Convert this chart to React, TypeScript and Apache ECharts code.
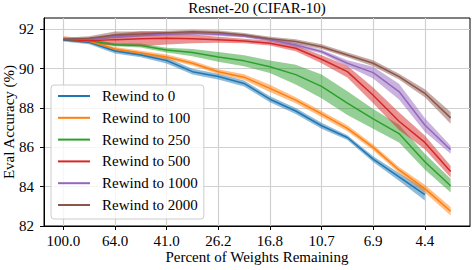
import React, { useEffect, useRef } from "react";
import * as echarts from "echarts";

// Pruning levels (percent of weights remaining), one per data point
const levels = ["100.0", "80.0", "64.0", "51.2", "41.0", "32.8", "26.2", "21.0", "16.8", "13.4", "10.7", "8.6", "6.9", "5.5", "4.4", "3.5"];
const xTickIdx = [0, 2, 4, 6, 8, 10, 12, 14];
const yTicks = [82, 84, 86, 88, 90, 92];

const names = ["Rewind to 0", "Rewind to 100", "Rewind to 250", "Rewind to 500", "Rewind to 1000", "Rewind to 2000"];
const colors = ["#1f77b4", "#ff7f0e", "#2ca02c", "#d62728", "#9467bd", "#8c564b"];

const rewind0 = [91.47, 91.35, 90.9, 90.7, 90.42, 89.85, 89.6, 89.25, 88.45, 87.85, 87.1, 86.5, 85.4, 84.5, 83.6];
const rewind0Err = [0.08, 0.1, 0.12, 0.12, 0.15, 0.15, 0.15, 0.15, 0.15, 0.15, 0.15, 0.12, 0.15, 0.2, 0.3];
const rewind100 = [91.55, 91.4, 91.0, 90.8, 90.6, 90.28, 89.85, 89.57, 89.0, 88.4, 87.7, 86.97, 86.0, 84.85, 83.9, 82.75];
const rewind100Err = [0.12, 0.1, 0.1, 0.12, 0.12, 0.12, 0.12, 0.15, 0.18, 0.15, 0.15, 0.15, 0.15, 0.15, 0.2, 0.22];
const rewind250 = [91.5, 91.43, 91.22, 91.18, 90.95, 90.82, 90.6, 90.4, 90.1, 89.7, 89.1, 88.25, 87.45, 86.7, 85.27, 84.05];
const rewind250Err = [0.08, 0.08, 0.08, 0.1, 0.12, 0.18, 0.25, 0.28, 0.32, 0.5, 0.6, 0.6, 0.5, 0.45, 0.4, 0.35];
const rewind500 = [91.5, 91.42, 91.48, 91.52, 91.55, 91.52, 91.47, 91.41, 91.3, 91.04, 90.48, 89.85, 88.65, 87.33, 86.25, 84.77];
const rewind500Err = [0.08, 0.12, 0.3, 0.38, 0.32, 0.22, 0.15, 0.12, 0.12, 0.15, 0.2, 0.3, 0.4, 0.45, 0.35, 0.3];
const rewind1000 = [91.5, 91.52, 91.63, 91.69, 91.76, 91.8, 91.75, 91.67, 91.47, 91.21, 90.87, 90.28, 89.8, 88.84, 87.14, 85.88];
const rewind1000Err = [0.06, 0.06, 0.07, 0.07, 0.08, 0.08, 0.08, 0.08, 0.08, 0.1, 0.1, 0.15, 0.3, 0.4, 0.35, 0.2];
const rewind2000 = [91.5, 91.55, 91.72, 91.77, 91.83, 91.88, 91.84, 91.72, 91.53, 91.38, 91.12, 90.7, 90.28, 89.6, 88.75, 87.5];
const rewind2000Err = [0.08, 0.1, 0.17, 0.12, 0.1, 0.1, 0.1, 0.1, 0.1, 0.12, 0.12, 0.12, 0.15, 0.15, 0.2, 0.3];

const means = [rewind0, rewind100, rewind250, rewind500, rewind1000, rewind2000];
const errs = [rewind0Err, rewind100Err, rewind250Err, rewind500Err, rewind1000Err, rewind2000Err];

const FONT = "Liberation Serif";
const txt = { fontFamily: FONT, fontSize: 15, fontWeight: "normal" as const, fontStyle: "normal" as const, color: "#000" };

export default function App() {
  const ref = useRef<HTMLDivElement>(null);
  useEffect(() => {
    document.body.style.margin = "0";
    const chart = echarts.init(ref.current as HTMLDivElement, null, { renderer: "svg" });
    const series: any[] = [];
    means.forEach((mean, k) => {
      const err = errs[k];
      const color = colors[k];
      series.push({
        type: "custom",
        name: names[k] + " band",
        silent: true,
        data: mean.map((m, i) => [i, m - err[i], m + err[i]]),
        encode: { x: 0, y: [1, 2] },
        renderItem: (params: any, api: any) => {
          if (params.dataIndex !== 0) return null;
          const upper = mean.map((m, i) => api.coord([i, m + err[i]]));
          const lower = mean.map((m, i) => api.coord([i, m - err[i]])).reverse();
          return {
            type: "polygon",
            shape: { points: upper.concat(lower) },
            style: { fill: color, opacity: 0.5 },
          };
        },
      });
      series.push({
        type: "line",
        name: names[k],
        data: mean.map((m, i) => [i, m]),
        symbol: "none",
        color: color,
        lineStyle: { color: color, width: 1.5 },
        itemStyle: { color: color },
        silent: true,
      });
    });

    chart.setOption({
      animation: false,
      textStyle: { ...txt },
      title: {
        text: "Resnet-20 (CIFAR-10)",
        left: 257,
        top: 0,
        textAlign: "center",
        padding: 0,
        textStyle: { ...txt },
      },
      legend: {
        data: names,
        orient: "vertical",
        left: 51,
        top: 85,
        padding: [3, 6, 6, 7],
        icon: "rect",
        itemWidth: 32,
        itemHeight: 2,
        itemGap: 5.8,
        backgroundColor: "rgba(255,255,255,0.8)",
        borderColor: "#cccccc",
        borderWidth: 1,
        borderRadius: 3,
        textStyle: { ...txt, lineHeight: 16, padding: [0, 0, 0, 7] },
      },
      grid: {
        left: 44,
        top: 18,
        right: 4,
        bottom: 44,
        show: true,
        borderColor: "#000",
        borderWidth: 1,
        backgroundColor: "transparent",
        containLabel: false,
        outerBoundsMode: "none",
      },
      xAxis: {
        type: "value",
        min: -0.75,
        max: 15.75,
        name: "Percent of Weights Remaining",
        nameLocation: "middle",
        nameGap: 23,
        nameMoveOverlap: false,
        nameTextStyle: { ...txt },
        axisLine: { show: true, onZero: false, lineStyle: { color: "#000", width: 1 } },
        axisTick: { show: true, length: 4, lineStyle: { color: "#000" }, customValues: xTickIdx },
        axisLabel: {
          ...txt,
          customValues: xTickIdx,
          margin: 7,
          formatter: (v: number) => levels[Math.round(v)] ?? "",
        },
        splitLine: { show: true, lineStyle: { color: "#d0d0d0", width: 1.2 } },
      },
      yAxis: {
        type: "value",
        min: 82,
        max: 92.58,
        name: "Eval Accuracy (%)",
        nameLocation: "middle",
        nameGap: 28,
        nameMoveOverlap: false,
        nameTextStyle: { ...txt },
        axisLine: { show: true, onZero: false, lineStyle: { color: "#000", width: 1 } },
        axisTick: { show: true, length: 4, lineStyle: { color: "#000" }, customValues: yTicks },
        axisLabel: { ...txt, customValues: yTicks, margin: 10 },
        splitLine: { show: true, lineStyle: { color: "#d0d0d0", width: 1.2 } },
      },
      tooltip: { show: false },
      series,
    });
    return () => chart.dispose();
  }, []);
  return <div ref={ref} style={{ width: 474, height: 270 }} />;
}
